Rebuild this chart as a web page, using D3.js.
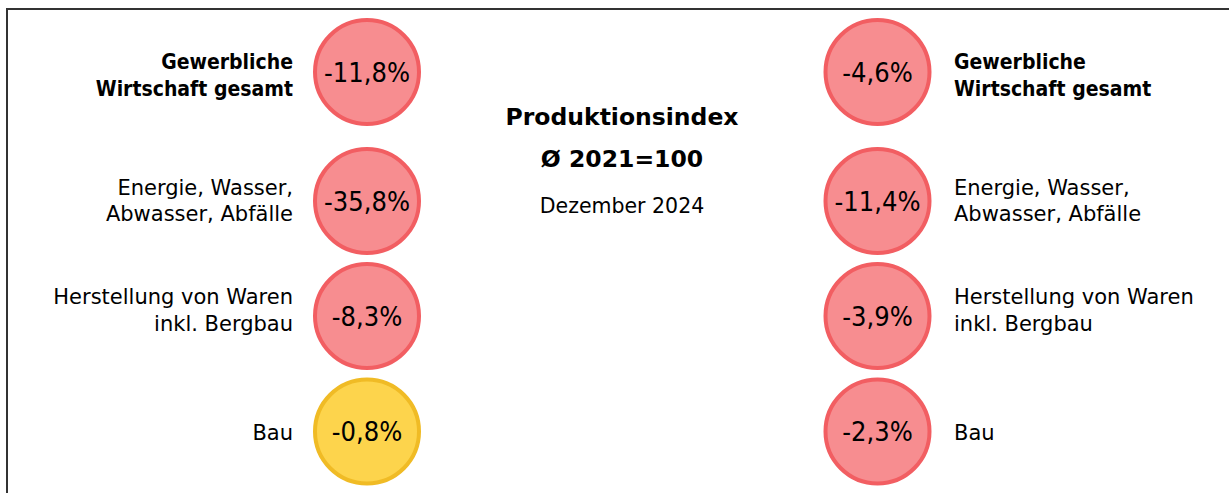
<!DOCTYPE html>
<html>
<head>
<meta charset="utf-8">
<script src="https://cdn.jsdelivr.net/npm/d3@7"></script>
<style>
  body { margin: 0; background: #fff; }
  svg { display: block; font-family: "DejaVu Sans", sans-serif; }
  .cond { font-family: "DejaVu Sans Condensed", "DejaVu Sans", sans-serif; font-stretch: condensed; }
</style>
</head>
<body>
<div id="chart"></div>
<script>
// categories (label lines) and values, left = Vormonat, right = Vorjahresmonat
const categories = [
    ['Gewerbliche', 'Wirtschaft gesamt'],
    ['Energie, Wasser,', 'Abwasser, Abfälle'],
    ['Herstellung von Waren', 'inkl. Bergbau'],
    ['Bau']
];
const boldRows = [true, false, false, false];
const leftValues = [-11.8, -35.8, -8.3, -0.8];
const rightValues = [-4.6, -11.4, -3.9, -2.3];
const titleLines = ['Produktionsindex', 'Ø 2021=100', 'Dezember 2024'];

const WIDTH = 1229;
const HEIGHT = 493;
const R = 52;
const LINE_GAP = 26.5;

const rows = categories.map((lines, i) => ({
    id: i,
    lines,
    bold: boldRows[i],
    left: leftValues[i],
    right: rightValues[i]
}));

const fmt = (v) => `${v.toFixed(1).replace('.', ',')}%`;

// Scales
const yCircle = d3.scaleOrdinal().domain(rows.map((d) => d.id)).range([72, 201, 316, 431.5]);
const yLabel = d3.scaleOrdinal().domain(rows.map((d) => d.id)).range([75, 200.5, 310, 432]);
const xSide = d3.scaleOrdinal().domain(['left', 'right']).range([367, 877.5]);
const fillScale = d3.scaleThreshold().domain([-1]).range(['#f78d90', '#fdd44c']);
const strokeScale = d3.scaleThreshold().domain([-1]).range(['#f25e62', '#f0bb25']);

const svg = d3
    .select('#chart')
    .append('svg')
    .attr('width', WIDTH)
    .attr('height', HEIGHT);

// frame (only top and left edges visible)
svg.append('rect')
    .attr('x', 7)
    .attr('y', 9)
    .attr('width', WIDTH + 20)
    .attr('height', HEIGHT + 20)
    .attr('fill', 'none')
    .attr('stroke', '#333')
    .attr('stroke-width', 2);

['left', 'right'].forEach((side) => {
    const g = svg.append('g').attr('class', `side-${side}`);

    const bubbles = g
        .selectAll('.bubble')
        .data(rows)
        .join('g')
        .attr('class', 'bubble')
        .attr('transform', (d) => `translate(${xSide(side)},${yCircle(d.id)})`);

    bubbles
        .append('circle')
        .attr('r', R)
        .attr('fill', (d) => fillScale(d[side]))
        .attr('stroke', (d) => strokeScale(d[side]))
        .attr('stroke-width', 4);

    bubbles
        .append('text')
        .attr('class', 'cond')
        .attr('text-anchor', 'middle')
        .attr('dy', '0.36em')
        .attr('font-size', 27)
        .attr('fill', '#000')
        .text((d) => fmt(d[side]));

    // category labels
    const labelX = side === 'left' ? 293 : 954;
    const labels = g
        .selectAll('.label')
        .data(rows)
        .join('text')
        .attr('class', (d) => (d.bold ? 'label cond' : 'label'))
        .attr('x', labelX)
        .attr('y', (d) => yLabel(d.id) - ((d.lines.length - 1) * LINE_GAP) / 2)
        .attr('text-anchor', side === 'left' ? 'end' : 'start')
        .attr('font-size', (d) => (d.bold ? 21 : 21))
        .attr('font-weight', (d) => (d.bold ? 'bold' : 'normal'))
        .attr('fill', '#000');

    labels
        .selectAll('tspan')
        .data((d) => d.lines)
        .join('tspan')
        .attr('x', labelX)
        .attr('dy', (d, i) => (i === 0 ? '0.36em' : LINE_GAP))
        .text((d) => d);
});

// center title
const titleY = [117, 159, 206];
svg.append('g')
    .selectAll('text')
    .data(titleLines)
    .join('text')
    .attr('x', 622)
    .attr('y', (d, i) => titleY[i])
    .attr('dy', '0.36em')
    .attr('text-anchor', 'middle')
    .attr('font-size', (d, i) => (i < 2 ? 23.5 : 20.5))
    .attr('font-weight', (d, i) => (i < 2 ? 'bold' : 'normal'))
    .attr('fill', '#000')
    .text((d) => d);
</script>
</body>
</html>
